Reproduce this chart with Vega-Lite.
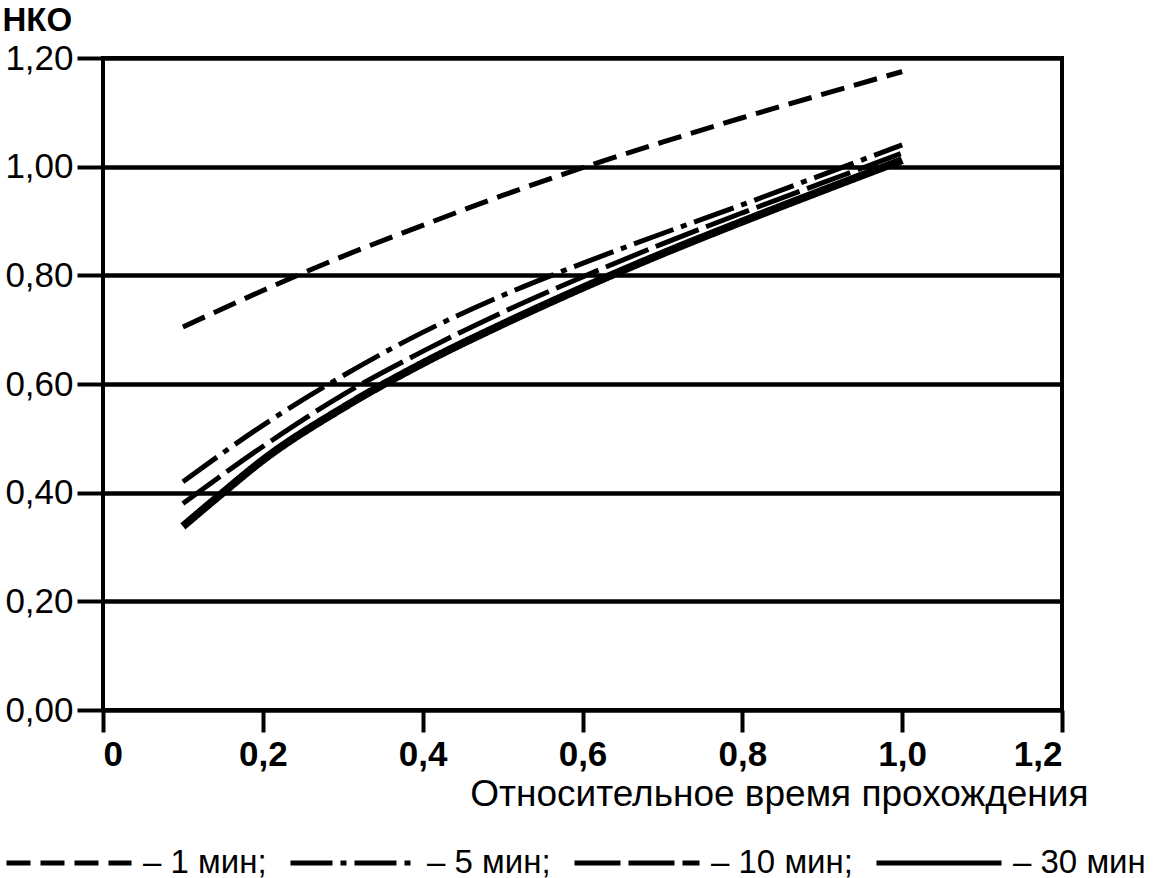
{
  "$schema": "https://vega.github.io/schema/vega-lite/v6.json",
  "width": 959,
  "height": 652,
  "autosize": "none",
  "padding": {"left": 103, "top": 58, "right": 100, "bottom": 168},
  "background": "white",
  "config": {
    "font": "Liberation Sans",
    "view": {"stroke": "black", "strokeWidth": 4}
  },
  "data": {
    "values": [
      {"t": 0.1, "nko": 0.705, "s": "1 мин"},
      {"t": 0.2, "nko": 0.772, "s": "1 мин"},
      {"t": 0.3, "nko": 0.835, "s": "1 мин"},
      {"t": 0.4, "nko": 0.892, "s": "1 мин"},
      {"t": 0.5, "nko": 0.947, "s": "1 мин"},
      {"t": 0.6, "nko": 0.998, "s": "1 мин"},
      {"t": 0.7, "nko": 1.045, "s": "1 мин"},
      {"t": 0.8, "nko": 1.090, "s": "1 мин"},
      {"t": 0.9, "nko": 1.133, "s": "1 мин"},
      {"t": 1.0, "nko": 1.175, "s": "1 мин"},
      {"t": 0.1, "nko": 0.420, "s": "5 мин"},
      {"t": 0.2, "nko": 0.524, "s": "5 мин"},
      {"t": 0.3, "nko": 0.615, "s": "5 мин"},
      {"t": 0.4, "nko": 0.695, "s": "5 мин"},
      {"t": 0.5, "nko": 0.763, "s": "5 мин"},
      {"t": 0.6, "nko": 0.822, "s": "5 мин"},
      {"t": 0.7, "nko": 0.877, "s": "5 мин"},
      {"t": 0.8, "nko": 0.930, "s": "5 мин"},
      {"t": 0.9, "nko": 0.985, "s": "5 мин"},
      {"t": 1.0, "nko": 1.040, "s": "5 мин"},
      {"t": 0.1, "nko": 0.380, "s": "10 мин"},
      {"t": 0.2, "nko": 0.485, "s": "10 мин"},
      {"t": 0.3, "nko": 0.580, "s": "10 мин"},
      {"t": 0.4, "nko": 0.660, "s": "10 мин"},
      {"t": 0.5, "nko": 0.732, "s": "10 мин"},
      {"t": 0.6, "nko": 0.797, "s": "10 мин"},
      {"t": 0.7, "nko": 0.858, "s": "10 мин"},
      {"t": 0.8, "nko": 0.915, "s": "10 мин"},
      {"t": 0.9, "nko": 0.970, "s": "10 мин"},
      {"t": 1.0, "nko": 1.025, "s": "10 мин"},
      {"t": 0.1, "nko": 0.338, "s": "30 мин"},
      {"t": 0.15, "nko": 0.400, "s": "30 мин"},
      {"t": 0.2, "nko": 0.460, "s": "30 мин"},
      {"t": 0.3, "nko": 0.556, "s": "30 мин"},
      {"t": 0.4, "nko": 0.638, "s": "30 мин"},
      {"t": 0.5, "nko": 0.710, "s": "30 мин"},
      {"t": 0.6, "nko": 0.777, "s": "30 мин"},
      {"t": 0.7, "nko": 0.840, "s": "30 мин"},
      {"t": 0.8, "nko": 0.899, "s": "30 мин"},
      {"t": 0.9, "nko": 0.956, "s": "30 мин"},
      {"t": 1.0, "nko": 1.012, "s": "30 мин"}
    ]
  },
  "mark": {"type": "line", "interpolate": "monotone", "color": "black"},
  "encoding": {
    "x": {
      "field": "t",
      "type": "quantitative",
      "scale": {"domain": [0, 1.2], "nice": false},
      "axis": {
        "values": [0, 0.2, 0.4, 0.6, 0.8, 1.0, 1.2],
        "grid": false,
        "domain": false,
        "tickColor": "black",
        "tickWidth": 4,
        "tickSize": 22,
        "labelColor": "black",
        "labelFontSize": 35,
        "labelFontWeight": "bold",
        "labelPadding": 5,
        "labelExpr": "datum.value == 0 ? '0' : replace(format(datum.value, '.1f'), '.', ',')",
        "title": "Относительное время прохождения",
        "titleColor": "black",
        "titleFontSize": 37,
        "titleFontWeight": "normal",
        "titleAlign": "right",
        "titleAnchor": null,
        "titleX": 985,
        "titleY": 95,
        "titleBaseline": "alphabetic"
      }
    },
    "y": {
      "field": "nko",
      "type": "quantitative",
      "scale": {"domain": [0, 1.2], "nice": false},
      "axis": {
        "values": [0, 0.2, 0.4, 0.6, 0.8, 1.0, 1.2],
        "grid": true,
        "gridColor": "black",
        "gridWidth": 4.5,
        "gridOpacity": 1,
        "domain": false,
        "tickColor": "black",
        "tickWidth": 4,
        "tickSize": 26,
        "labelColor": "black",
        "labelFontSize": 35,
        "labelPadding": 4,
        "labelExpr": "replace(format(datum.value, '.2f'), '.', ',')",
        "title": "НКО",
        "titleColor": "black",
        "titleFontSize": 33,
        "titleFontWeight": "bold",
        "titleAngle": 0,
        "titleAlign": "left",
        "titleBaseline": "top",
        "titleAnchor": null,
        "titleX": -101,
        "titleY": -54
      }
    },
    "strokeDash": {
      "field": "s",
      "type": "nominal",
      "scale": {
        "domain": ["1 мин", "5 мин", "10 мин", "30 мин"],
        "range": [[24, 10], [42, 8, 6, 8], [46, 8], [1, 0]]
      },
      "legend": {
        "orient": "none",
        "legendX": -99,
        "legendY": 740,
        "direction": "horizontal",
        "columns": 4,
        "title": null,
        "symbolType": "stroke",
        "symbolSize": 15625,
        "symbolStrokeColor": "black",
        "symbolStrokeWidth": 5,
        "labelColor": "black",
        "labelFontSize": 33,
        "labelOffset": 9,
        "columnPadding": 13,
        "labelLimit": 300,
        "labelExpr": "datum.label == '30 мин' ? '– 30 мин' : '– ' + datum.label + ';'"
      }
    },
    "strokeWidth": {
      "condition": {"test": "datum.s == '30 мин'", "value": 8},
      "value": 5
    }
  }
}
